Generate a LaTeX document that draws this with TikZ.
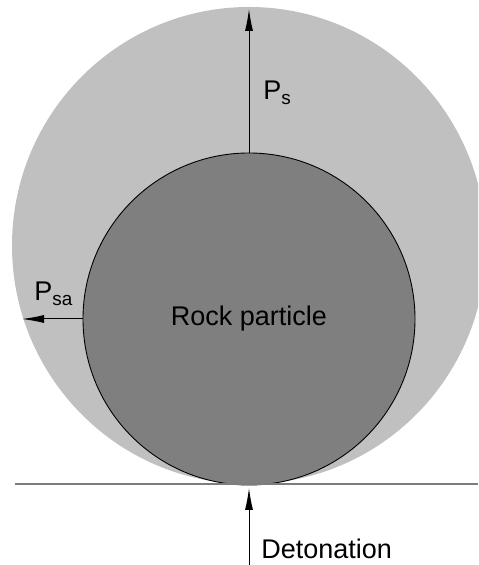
\documentclass[tikz,border=0pt]{standalone}
\usepackage{fontspec}
\setmainfont{Liberation Sans}
\usetikzlibrary{arrows.meta,positioning}
\definecolor{gasGray}{RGB}{192,192,192}
\definecolor{rockGray}{RGB}{127,127,127}
\definecolor{groundGray}{RGB}{125,125,125}

\begin{document}
\begin{tikzpicture}[
  x=0.5pt, y=0.5pt,
  every node/.style={font=\fontsize{13.5}{16}\selectfont},
  gasZone/.style={fill=gasGray},
  rockBody/.style={circle, draw=black, line width=0.45pt, fill=rockGray,
    minimum size=166pt, inner sep=0pt},
  groundLine/.style={groundGray, line width=0.6pt},
  forceArrow/.style={black, line width=0.5pt,
    -{Latex[length=11pt, width=4pt]}},
  forceLabel/.style={anchor=base west, inner sep=0pt}
]
\useasboundingbox (0,0) rectangle (478,565);
\clip (0,0) rectangle (478,565);

% Gas pressure zone around the particle.
\fill[gasZone] (249,319.5) ellipse [x radius=237, y radius=238.5];

\node[rockBody] (rock) at (249,246) {Rock particle};

\coordinate (groundL) at (15,81);
\coordinate (groundR) at (478,81);
\coordinate (psTip) at (249,556);
\coordinate (psaTip) at (22,246);
\coordinate (detStart) at (249,0);
\coordinate (detTip) at (249,77);

\draw[groundLine] (groundL) -- (groundR);

% Pressures.
\draw[forceArrow] (rock.north) -- (psTip);
\draw[forceArrow] (rock.west) -- (psaTip);
\draw[forceArrow] (detStart) -- (detTip);

\node[forceLabel] (ps) at (263,465) {P\textsubscript{s}};
\node[forceLabel] (psa) at (34,264) {P\textsubscript{sa}};
\node[forceLabel] (det) at (261,6) {Detonation};
\end{tikzpicture}
\end{document}
